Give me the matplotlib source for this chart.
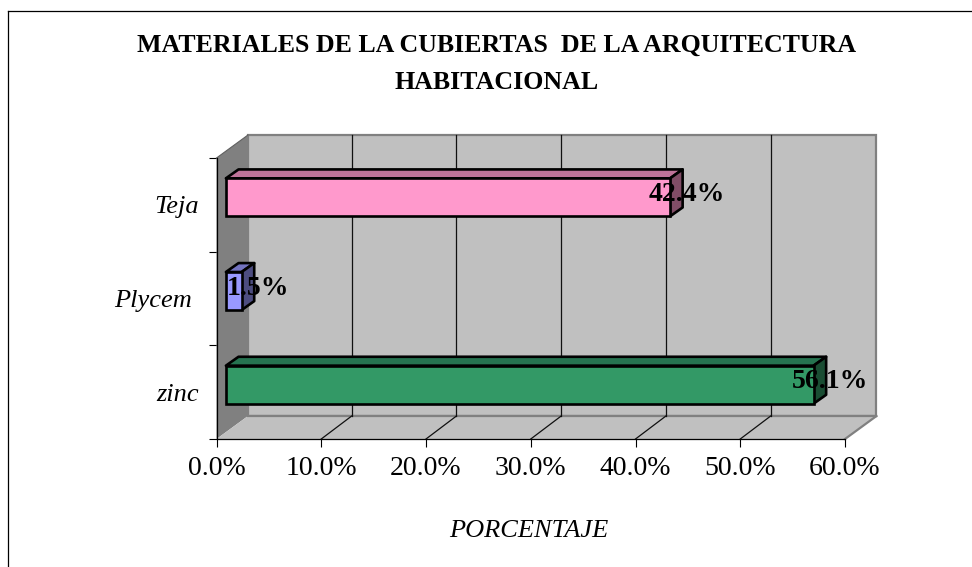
import matplotlib
matplotlib.use("Agg")
import matplotlib.pyplot as plt
from matplotlib.lines import Line2D

plt.rcParams['font.family'] = ['Liberation Serif', 'DejaVu Serif']

categories = ['zinc', 'Plycem ', 'Teja']
values = [56.1, 1.5, 42.4]
value_labels = ['56.1%', '1.5%', '42.4%']
front_colors = ['#339966', '#9999FF', '#FF99CC']
top_colors = ['#267350', '#7373BF', '#BF7399']
side_colors = ['#1A4D33', '#4D4D80', '#804D66']
x_ticks = [0, 10, 20, 30, 40, 50, 60]
x_tick_labels = ['0.0%', '10.0%', '20.0%', '30.0%', '40.0%', '50.0%', '60.0%']
title = 'MATERIALES DE LA CUBIERTAS  DE LA ARQUITECTURA\nHABITACIONAL'

# 3D look, depth of the walls and bars in data units
wall_dx = 3.0
wall_dy = 0.245
bar_dx = 1.2
bar_dy = 0.095
bar_off_x = 0.9
bar_off_y = 0.08
bar_h = 0.406

fig = plt.figure(figsize=(9.72, 5.67), dpi=100)
ax = fig.add_axes([216.5 / 972, 1 - 439 / 567, 628.5 / 972, 281 / 567])
ax.set_xlim(0, 60)
ax.set_ylim(0, 3)

# walls and floor
ax.fill([wall_dx, 60 + wall_dx, 60 + wall_dx, wall_dx],
        [wall_dy, wall_dy, 3 + wall_dy, 3 + wall_dy],
        facecolor='#C0C0C0', edgecolor='#808080', linewidth=1.6, clip_on=False, zorder=1)
ax.fill([0, wall_dx, wall_dx, 0], [0, wall_dy, 3 + wall_dy, 3],
        facecolor='#808080', edgecolor='none', clip_on=False, zorder=2)
ax.fill([0, 60, 60 + wall_dx, wall_dx], [0, 0, wall_dy, wall_dy],
        facecolor='#C0C0C0', edgecolor='none', clip_on=False, zorder=2)
ax.plot([60, 60 + wall_dx], [0, wall_dy], color='#808080', linewidth=1.6, clip_on=False, zorder=2)
ax.plot([wall_dx, 60 + wall_dx], [wall_dy, wall_dy], color='#808080', linewidth=1.6, clip_on=False, zorder=3)
ax.plot([0, wall_dx], [3, 3 + wall_dy], color='#606060', linewidth=0.8, clip_on=False, zorder=3)

# grid on back wall and floor
for t in x_ticks[1:-1]:
    ax.plot([t + wall_dx - 0.1, t + wall_dx - 0.1], [wall_dy, 3 + wall_dy], color='#101010', linewidth=0.9, clip_on=False, zorder=3)
    ax.plot([t, t + wall_dx - 0.1], [0, wall_dy], color='#101010', linewidth=0.9, clip_on=False, zorder=3)

# bars
for i, v in enumerate(values):
    y0 = i + 0.5 + bar_off_y - bar_h / 2
    y1 = y0 + bar_h
    x0 = bar_off_x
    x1 = bar_off_x + v
    ax.fill([x0, x1, x1 + bar_dx, x0 + bar_dx], [y1, y1, y1 + bar_dy, y1 + bar_dy],
            facecolor=top_colors[i], edgecolor='black', linewidth=1.9, joinstyle='round', clip_on=False, zorder=4)
    ax.fill([x1, x1 + bar_dx, x1 + bar_dx, x1], [y0, y0 + bar_dy, y1 + bar_dy, y1],
            facecolor=side_colors[i], edgecolor='black', linewidth=1.9, joinstyle='round', clip_on=False, zorder=4)
    ax.barh(i + 0.5 + bar_off_y, v, height=bar_h, left=bar_off_x, color=front_colors[i],
            edgecolor='black', linewidth=1.9, clip_on=False, zorder=5)
    ax.text(x1 + 1.6, i + 0.5 + bar_off_y + 0.03, value_labels[i], ha='center', va='center',
            fontsize=20, fontweight='bold', color='black', zorder=6)

# axes
for s in ['top', 'right']:
    ax.spines[s].set_visible(False)
for s in ['left', 'bottom']:
    ax.spines[s].set_color('black')
    ax.spines[s].set_linewidth(0.9)
    ax.spines[s].set_zorder(7)

ax.set_xticks(x_ticks)
ax.set_xticklabels(x_tick_labels, fontsize=20)
ax.tick_params(axis='x', length=5.5, width=0.8, pad=7)
ax.set_yticks([0, 1, 2, 3])
ax.set_yticklabels([])
ax.tick_params(axis='y', which='major', length=5.5, width=0.8)
ax.set_yticks([0.5, 1.5, 2.5], minor=True)
ax.set_yticklabels(categories, minor=True, fontsize=19, fontstyle='italic')
ax.tick_params(axis='y', which='minor', length=0, pad=13)

fig.text(529 / 972, 1 - 531 / 567, 'PORCENTAJE', ha='center', va='center', fontsize=19, fontstyle='italic')
fig.text(497 / 972, 1 - 64 / 567, title, ha='center', va='center', fontsize=18.6, fontweight='bold',
         linespacing=1.75)

# outer frame of the chart
fig.add_artist(Line2D([7.5 / 972, 7.5 / 972], [0, 1 - 11 / 567], color='black', linewidth=0.9))
fig.add_artist(Line2D([7.5 / 972, 1], [1 - 11 / 567, 1 - 11 / 567], color='black', linewidth=0.9))

fig.savefig('out.png', dpi=100)
